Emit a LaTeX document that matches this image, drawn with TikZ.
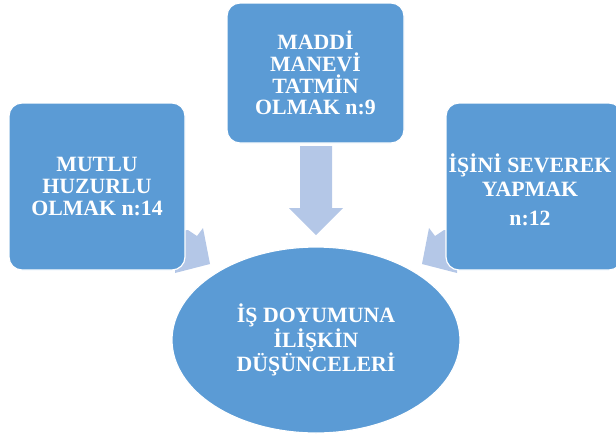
\documentclass[tikz,border=0pt]{standalone}
\usepackage{fontspec}
\setmainfont{Liberation Serif}
\usetikzlibrary{shapes.geometric}
\definecolor{boxblue}{HTML}{5B9BD5}
\definecolor{arrowblue}{HTML}{B4C7E7}
\begin{document}
\begin{tikzpicture}[x=1pt,y=-1pt,
  label text/.style={text=white, font=\bfseries\fontsize{21.8}{21.8}\selectfont, align=center, inner sep=0pt},
  box/.style={draw=white, line width=1.2pt, fill=boxblue, rounded corners=13pt,
    label text, minimum width=176pt},
  blockarrow/.style={fill=arrowblue, draw=none}]
\useasboundingbox (0,0) rectangle (616,437);
\clip (0,0) rectangle (616,437);
% partially hidden side arrows
\fill[blockarrow] (175,232) -- (188,230) -- (197,236) -- (203,228) -- (210,264) -- (175,273) -- cycle;
\fill[blockarrow] (457,232) -- (444,230) -- (435,236) -- (429,228) -- (422,264) -- (457,273) -- cycle;
% boxes
\node[box, minimum height=167pt] (left) at (97,186.5) {MUTLU\\HUZURLU\\OLMAK n:14};
\node[box, minimum width=177pt, minimum height=140pt] (top) at (315.5,73) {MADDİ\\MANEVİ\\TATMİN\\OLMAK n:9};
\node[box, minimum height=167pt] (right) at (534,186.5) {};
\node[label text] (righttext) at (530,190) {İŞİNİ SEVEREK\\[2pt]YAPMAK\\[8pt]n:12};
% top arrow
\fill[blockarrow] (300,146) -- (332,146) -- (332,208) -- (343,208) -- (316,235) -- (289,208) -- (300,208) -- cycle;
% centre ellipse
\node[ellipse, draw=white, line width=1.2pt, fill=boxblue, minimum width=288pt, minimum height=186pt,
  label text] (centre) at (316,340)
  {İŞ DOYUMUNA\\İLİŞKİN\\DÜŞÜNCELERİ};
\end{tikzpicture}
\end{document}
